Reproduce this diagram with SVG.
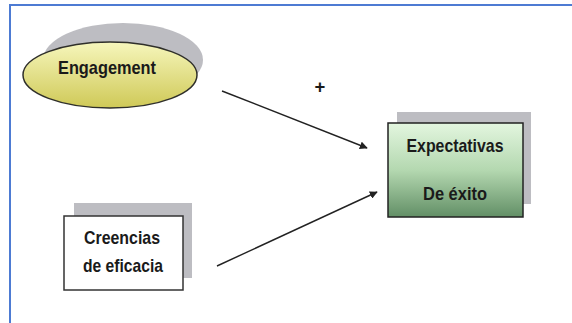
<svg xmlns="http://www.w3.org/2000/svg" width="572" height="323" viewBox="0 0 572 323">
  <style>
    .lbl { font-family: "Liberation Sans", Arial, sans-serif; font-weight: bold; font-size: 18.5px; fill: #1a1a1a; text-anchor: middle; }
    .shadow { fill: #bdbdc2; }
    .edge { stroke: #222; stroke-width: 1.4; fill: none; marker-end: url(#arrow); }
  </style>
  <defs>
    <linearGradient id="yellowFill" x1="0" y1="0" x2="0" y2="1">
      <stop offset="0" stop-color="#f6f6bc"/>
      <stop offset="1" stop-color="#cfc957"/>
    </linearGradient>
    <linearGradient id="greenFill" x1="0" y1="0" x2="0" y2="1">
      <stop offset="0" stop-color="#e3f6df"/>
      <stop offset="0.5" stop-color="#b4d8b0"/>
      <stop offset="1" stop-color="#628f66"/>
    </linearGradient>
    <marker id="arrow" viewBox="0 0 10 10" refX="9" refY="5" markerWidth="8" markerHeight="8" markerUnits="userSpaceOnUse" orient="auto">
      <path d="M0,0 L10,5 L0,10 Z" fill="#222"/>
    </marker>
  </defs>

  <rect width="572" height="323" fill="#ffffff"/>
  <!-- frame -->
  <path d="M10,323 V5 H572" fill="none" stroke="#4d7bd3" stroke-width="2"/>

  <g id="connectors">
    <line class="edge" x1="222" y1="91" x2="367" y2="148"/>
    <line class="edge" x1="217" y1="266" x2="377" y2="192"/>
    <text class="lbl" x="320" y="93" font-size="14">+</text>
  </g>

  <g id="engagement">
    <ellipse class="shadow" cx="123" cy="60" rx="80" ry="37"/>
    <ellipse cx="110" cy="75" rx="87" ry="33" fill="url(#yellowFill)" stroke="#2f2f2a" stroke-width="1.5"/>
    <text class="lbl" x="107" y="74" textLength="98" lengthAdjust="spacingAndGlyphs">Engagement</text>
  </g>

  <g id="expectativas">
    <rect class="shadow" x="397" y="112" width="134" height="92"/>
    <rect x="388" y="123" width="135" height="94" fill="url(#greenFill)" stroke="#222" stroke-width="1.5"/>
    <text class="lbl" x="455" y="152" textLength="97" lengthAdjust="spacingAndGlyphs">Expectativas</text>
    <text class="lbl" x="455" y="200" textLength="64" lengthAdjust="spacingAndGlyphs">De éxito</text>
  </g>

  <g id="creencias">
    <rect class="shadow" x="74" y="203" width="118" height="75"/>
    <rect x="64" y="216" width="119" height="74" fill="#ffffff" stroke="#333" stroke-width="1.5"/>
    <text class="lbl" x="122" y="244" textLength="76" lengthAdjust="spacingAndGlyphs">Creencias</text>
    <text class="lbl" x="123" y="272" textLength="80" lengthAdjust="spacingAndGlyphs">de eficacia</text>
  </g>
</svg>
